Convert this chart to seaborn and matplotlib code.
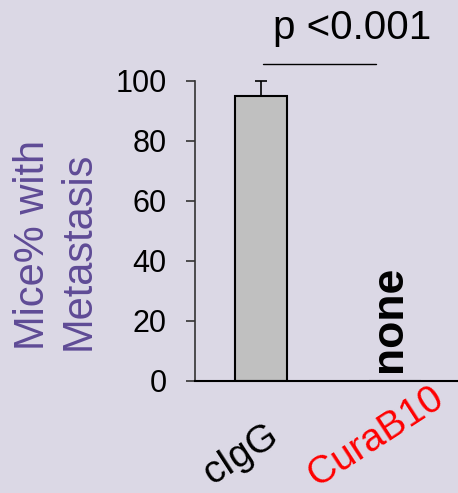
import numpy as np
import pandas as pd
import seaborn as sns
import matplotlib.pyplot as plt
import matplotlib.transforms as mtransforms

groups = ['cIgG', 'CuraB10']
pct_mets = [95, 0]
err_up = [5, 0]
label_colors = ['black', 'red']
p_text = 'p <0.001'

bg = '#dbd8e5'
sns.set_theme(style="white", rc={'axes.facecolor': bg, 'figure.facecolor': bg,
                                 'text.color': 'black', 'axes.labelcolor': 'black',
                                 'xtick.color': 'black', 'ytick.color': 'black'})
plt.rcParams['font.family'] = ['Liberation Sans', 'DejaVu Sans']

df = pd.DataFrame({'group': groups, 'pct': pct_mets})

fig = plt.figure(figsize=(4.58, 4.93), dpi=100)
ax = fig.add_axes([0.4258, 0.2272, 0.5742, 0.6085])

sns.barplot(data=df, x='group', y='pct', color='#c0c0c0', width=0.39,
            edgecolor='black', linewidth=1.5, errorbar=None, ax=ax)
ax.errorbar([0], [pct_mets[0]], yerr=[[0], [err_up[0]]], fmt='none',
            ecolor='black', elinewidth=1.2, capsize=4.5, capthick=1.2, clip_on=False)

ax.set_ylim(0, 100)
ax.set_xlim(-0.49, 1.47)
ax.set_yticks([0, 20, 40, 60, 80, 100])
ax.tick_params(axis='y', direction='out', length=6.5, width=1.2, color='#333333',
               labelsize=22, pad=14, left=True)
ax.tick_params(axis='x', length=0, labelsize=28, pad=0)
ax.set_xticks(range(len(groups)))
ax.set_xticklabels(groups, rotation=33, ha='center', va='center', rotation_mode='anchor')

# label offsets (inches) to sit where the original has them
lab_off = [(-0.20, -0.74), (-0.19, -0.56)]
for t, c, (dx, dy) in zip(ax.get_xticklabels(), label_colors, lab_off):
    t.set_color(c)
    t.set_transform(t.get_transform() + mtransforms.ScaledTranslation(dx, dy, fig.dpi_scale_trans))

for s in ['top', 'right']:
    ax.spines[s].set_visible(False)
ax.spines['left'].set_color('#333333')
ax.spines['left'].set_linewidth(1.2)
ax.spines['bottom'].set_color('black')
ax.spines['bottom'].set_linewidth(1.5)

ax.set_xlabel('')
ax.set_ylabel('')
fig.text(0.028, 0.29, 'Mice% with\nMetastasis', rotation=90, fontsize=30,
         color='#5f4b96', ha='left', va='bottom', multialignment='left', linespacing=1.2)

ax.text(0.96, 3, 'none', rotation=90, fontsize=32, fontweight='bold', ha='center', va='bottom')
ax.plot([0.02, 0.86], [105.7, 105.7], color='black', lw=1, clip_on=False)
ax.text(0.68, 111.3, p_text, fontsize=29, ha='center', va='bottom')

fig.savefig('out.png', dpi=100, facecolor=bg)
